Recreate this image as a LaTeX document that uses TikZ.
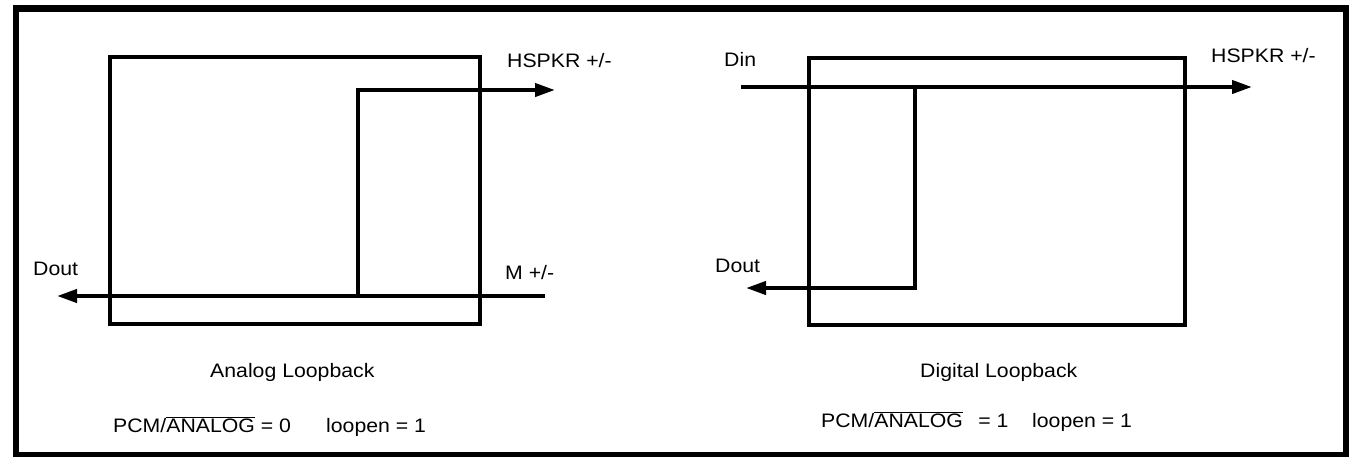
\documentclass[tikz,border=0pt]{standalone}
\usepackage{fontspec}
\setmainfont{Liberation Sans}
\usetikzlibrary{arrows.meta}
\newcommand{\ovbar}[1]{$\overline{\hbox{#1}}$}
\newcommand{\wtxt}[1]{\scalebox{1.09}[1]{#1}}
\begin{document}
\begin{tikzpicture}[x=1pt,y=-1pt,
  frame/.style={line width=6.5pt},
  blockbox/.style={draw,line width=4pt,inner sep=0pt,outer sep=0pt},
  wire/.style={line width=4pt},
  sig/.style={wire,-{Triangle[length=20pt,width=13pt]}},
  lbl/.style={anchor=base west,inner sep=0pt,font=\fontsize{19.5}{22}\selectfont}]
\useasboundingbox (0,0) rectangle (1358,456);
\clip (0,0) rectangle (1358,456);
\draw[frame] (16,8.5) rectangle (1346,455);

% left panel: analog loopback
\node[blockbox,minimum width=370pt,minimum height=267pt] (Lbox) at (295,190.5) {};
\coordinate (Lhs) at (555,90);
\coordinate (Ltap) at (358,90);
\coordinate (Ljoin) at (358,296);
\coordinate (Lmin) at (545,296);
\coordinate (Ldout) at (57,296);
\draw[sig] (Lmin) -- (Ldout);
\draw[sig] (Ljoin) -- (Ltap) -- (Lhs);

\node[lbl] (LhsL) at (507,67) {\wtxt{HSPKR +/-}};
\node[lbl] (LdoutL) at (33,275) {\wtxt{Dout}};
\node[lbl] (LminL) at (505,279) {\wtxt{M +/-}};
\node[lbl] (Ltitle) at (210,377) {\wtxt{Analog Loopback}};
\node[lbl] (Lpcm) at (113,432) {\wtxt{PCM/\ovbar{ANALOG} = 0}};
\node[lbl] (Lloop) at (326,432) {\wtxt{loopen = 1}};

% right panel: digital loopback
\node[blockbox,minimum width=376pt,minimum height=267pt] (Rbox) at (997,191.5) {};
\coordinate (Rdin) at (741,87);
\coordinate (Rhs) at (1252,87);
\coordinate (Rtap) at (915,87);
\coordinate (Rcorner) at (915,288);
\coordinate (Rdout) at (746,288);
\draw[sig] (Rdin) -- (Rhs);
\draw[sig] (Rtap) -- (Rcorner) -- (Rdout);

\node[lbl] (RdinL) at (724,66) {\wtxt{Din}};
\node[lbl] (RhsL) at (1211,62) {\wtxt{HSPKR +/-}};
\node[lbl] (RdoutL) at (715,272) {\wtxt{Dout}};
\node[lbl] (Rtitle) at (920,377) {\wtxt{Digital Loopback}};
\node[lbl] (Rpcm) at (821,427) {\wtxt{PCM/\ovbar{ANALOG}\hspace{0.45em} = 1}};
\node[lbl] (Rloop) at (1032,427) {\wtxt{loopen = 1}};
\end{tikzpicture}
\end{document}
